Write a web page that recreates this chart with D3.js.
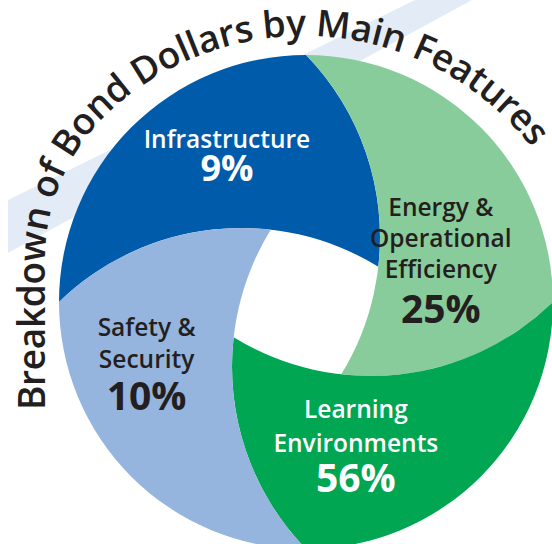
<!DOCTYPE html>
<html lang="en">
  <head>
    <meta charset="utf-8" />
    <style>
      html, body { margin: 0; padding: 0; background: #fff; }
      svg { display: block; }
    </style>
  </head>
  <body>
    <script type="text/javascript" src="https://d3js.org/d3.v7.min.js"></script>
    <script>
      // chart data
      var title = "Breakdown of Bond Dollars by Main Features";
      var categories = ["Infrastructure", "Energy & Operational Efficiency", "Learning Environments", "Safety & Security"];
      var shares = [9, 25, 56, 10];
      var labelLines = [["Infrastructure"], ["Energy &", "Operational", "Efficiency"], ["Learning", "Environments"], ["Safety &", "Security"]];

      // look
      var colors = ["#005baa", "#89cc9b", "#00a651", "#95b4de"];
      var textColors = ["#ffffff", "#231f20", "#ffffff", "#231f20"];
      // label anchor: polar (deg, radius) of first baseline, name line step, pct size, pct gap
      var labelLayout = [
        { a: -117.2, r: 173, step: 32, pct: 36, gap: 33 },
        { a: -32.6, r: 160, step: 31, pct: 39, gap: 45 },
        { a: 66.7, r: 126, step: 34, pct: 39, gap: 40 },
        { a: 167.9, r: 163, step: 32, pct: 39, gap: 42 }
      ];

      var width = 552, height = 544;
      var cx = 306, cy = 302, R = 247, coreR = 80.5;
      var deg = Math.PI / 180;

      var svg = d3.select("body").append("svg")
        .attr("width", width)
        .attr("height", height);

      // pale swoosh behind the pie
      svg.append("path")
        .attr("d", "M8,200L415,0L472,0L8,253Z")
        .attr("fill", "#e3ecf6");

      // each swirl starts on the rim, quarter by quarter
      var rimAngle = d3.scaleLinear().domain([0, 4]).range([-90 * deg, 270 * deg]);

      function polar(r, a) {
        return [cx + r * Math.cos(a), cy + r * Math.sin(a)];
      }
      function circum(a, b, c) {
        var d = 2 * (a[0] * (b[1] - c[1]) + b[0] * (c[1] - a[1]) + c[0] * (a[1] - b[1]));
        var A = a[0] * a[0] + a[1] * a[1], B = b[0] * b[0] + b[1] * b[1], C = c[0] * c[0] + c[1] * c[1];
        var x = (A * (b[1] - c[1]) + B * (c[1] - a[1]) + C * (a[1] - b[1])) / d;
        var y = (A * (c[0] - b[0]) + B * (a[0] - c[0]) + C * (b[0] - a[0])) / d;
        return [x, y, Math.hypot(a[0] - x, a[1] - y)];
      }
      function ang(o, p) {
        return Math.atan2(p[1] - o[1], p[0] - o[0]);
      }

      var swirls = d3.range(4).map(function (k) {
        var a0 = rimAngle(k);
        var s = polar(R, a0),
          p1 = polar(coreR, a0 + 64 * deg),
          p2 = polar(coreR, a0 + 154 * deg);
        var o = circum(s, p1, p2);
        return { a0: a0, s: s, p1: p1, p2: p2, o: o };
      });

      function region(j) {
        var fw = swirls[j], bk = swirls[(j + 3) % 4];
        var p = d3.path();
        var start = polar(R, fw.a0 - Math.PI / 2);
        p.moveTo(start[0], start[1]);
        p.arc(cx, cy, R, fw.a0 - Math.PI / 2, fw.a0, false);
        p.arc(fw.o[0], fw.o[1], fw.o[2], ang(fw.o, fw.s), ang(fw.o, fw.p1), false);
        p.arc(bk.o[0], bk.o[1], bk.o[2], ang(bk.o, bk.p2), ang(bk.o, bk.s), true);
        p.closePath();
        return p.toString();
      }

      svg.selectAll("path.slice")
        .data(categories)
        .join("path")
        .attr("class", "slice")
        .attr("d", function (d, i) { return region(i); })
        .attr("fill", function (d, i) { return colors[i]; });

      // labels
      var labels = svg.selectAll("text.lab")
        .data(categories)
        .join("text")
        .attr("class", "lab")
        .attr("text-anchor", "middle")
        .attr("font-family", "'Open Sans', sans-serif")
        .attr("font-weight", 600)
        .attr("fill", function (d, i) { return textColors[i]; })
        .each(function (d, i) {
          var L = labelLayout[i];
          var pt = polar(L.r, L.a * deg);
          var t = d3.select(this);
          labelLines[i].forEach(function (line, n) {
            t.append("tspan")
              .attr("x", pt[0])
              .attr("y", pt[1] + n * L.step)
              .attr("font-size", 24.5)
              .text(line);
          });
          t.append("tspan")
            .attr("x", pt[0])
            .attr("y", pt[1] + (labelLines[i].length - 1) * L.step + L.gap)
            .attr("font-size", L.pct)
            .attr("font-weight", 700)
            .text(shares[i] + "%");
        });

      // curved title: straight run up the left, then around the top
      var tx = 45, yStart = 410, yJoin = 260;
      var bx = 304, by = 324, rho = 288;
      var dd = bx - tx, ee = by - yJoin;
      var rs = (rho * rho - dd * dd - ee * ee) / (2 * (rho - dd));
      var sc = [tx + rs, yJoin];
      var dir = Math.atan2(sc[1] - by, sc[0] - bx);
      var endA = 325 * deg;
      var tp = d3.path();
      tp.moveTo(tx, yStart);
      tp.lineTo(tx, yJoin);
      tp.arc(sc[0], sc[1], rs, Math.PI, dir + 2 * Math.PI, false);
      tp.arc(bx, by, rho, dir + 2 * Math.PI, endA, false);
      var textLen = (yStart - yJoin) + rs * (dir + Math.PI) + rho * (endA - dir - 2 * Math.PI) - 14;

      svg.append("path")
        .attr("id", "titlePath")
        .attr("d", tp.toString())
        .attr("fill", "none");

      svg.append("text")
        .attr("font-family", "'Open Sans', sans-serif")
        .attr("font-weight", 600)
        .attr("font-size", 37)
        .attr("fill", "#231f20")
        .append("textPath")
        .attr("href", "#titlePath")
        .attr("textLength", textLen)
        .attr("lengthAdjust", "spacing")
        .text(title);

      console.log("ready..");
    </script>
  </body>
</html>
